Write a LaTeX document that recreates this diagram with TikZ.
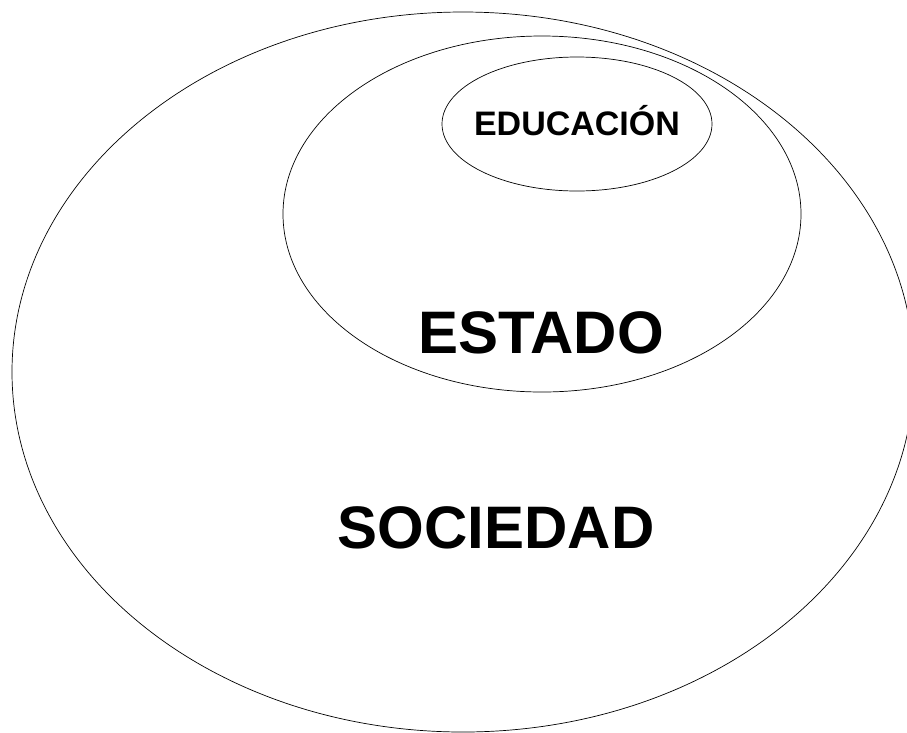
\documentclass[tikz,border=0pt]{standalone}
\usepackage{fontspec}
\setmainfont{Liberation Sans}
\usepackage{tikz}

\begin{document}
\begin{tikzpicture}[x=1pt,y=-1pt,line width=.7pt]
        \useasboundingbox (0,0) rectangle (907,732);
        \clip (0,0) rectangle (907,732);
        \draw (463,372) ellipse (451 and 360);
        \draw (542,214) ellipse (259 and 178);
        \draw (577,124) ellipse (135 and 67);
        \draw (577,135) node[anchor = base] (educacion) {\fontsize{34}{40}\selectfont\bfseries EDUCACIÓN};
        \draw (541,353) node[anchor = base] (estado)    {\fontsize{60}{70}\selectfont\bfseries ESTADO};
        \draw (496,548) node[anchor = base] (sociedad)  {\fontsize{60}{70}\selectfont\bfseries SOCIEDAD};
\end{tikzpicture}
\end{document}
